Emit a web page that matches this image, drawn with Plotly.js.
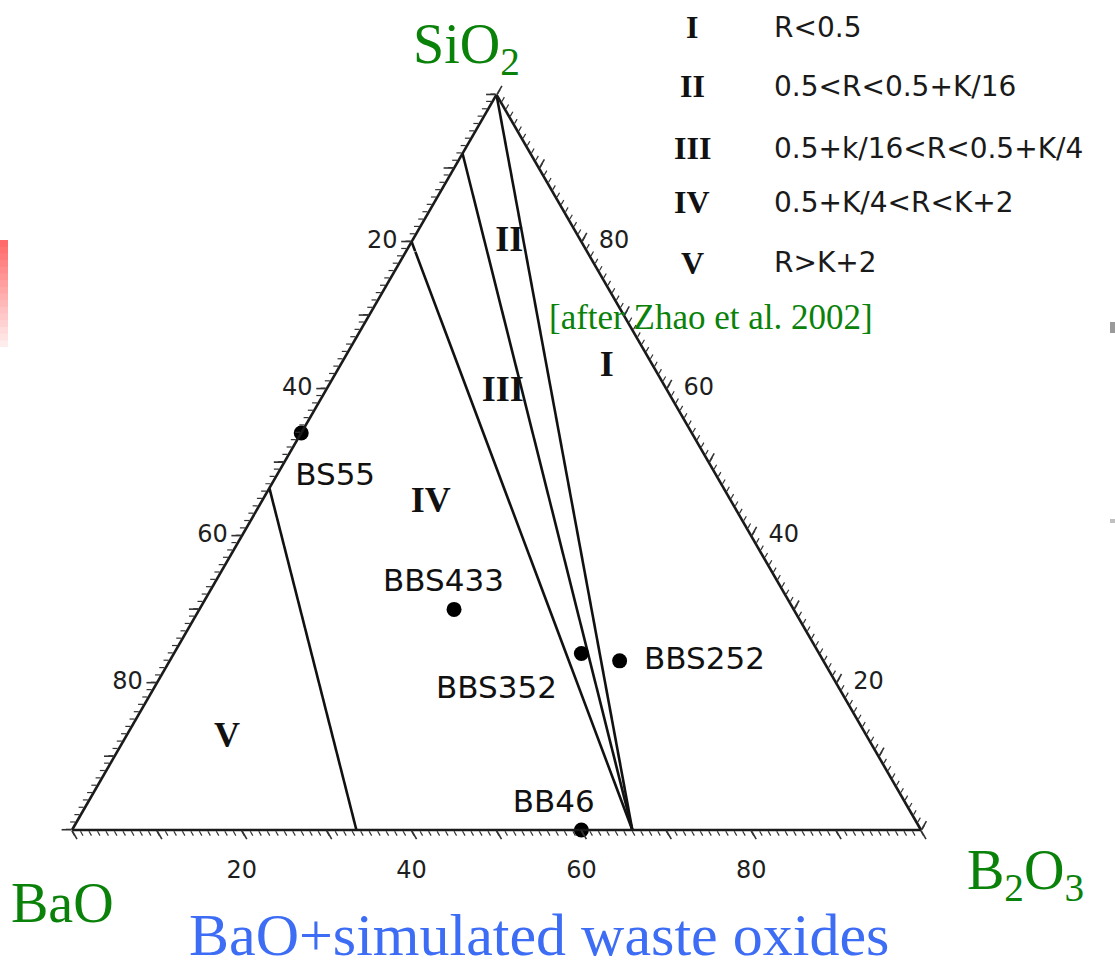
<!DOCTYPE html>
<html><head><meta charset="utf-8">
<script src="https://cdn.plot.ly/plotly-3.0.1.min.js"></script>
<style>html,body{margin:0;padding:0;background:#fff;}#chart{width:1115px;height:970px;}</style>
</head><body><div id="chart"></div>
<script>
// Ternary: a = SiO2 (top), b = BaO (bottom-left), c = B2O3 (bottom-right), mol%
const sampleNames = ['BS55', 'BBS433', 'BBS352', 'BBS252', 'BB46'];
const sampleSiO2 = [54, 30, 24, 23, 0];
const sampleBaO  = [46, 40, 28, 24, 40];
const sampleB2O3 = [0, 30, 48, 53, 60];

// region boundaries (end points)
const boundaryNames = ['R=0.5', 'R=0.5+K/16', 'R=0.5+K/4', 'R=K+2'];
const boundarySiO2 = [[100, 0], [92, 0], [80, 0], [46.5, 0]];
const boundaryBaO  = [[0, 34], [8, 34], [20, 34], [53.5, 66.5]];
const boundaryB2O3 = [[0, 66], [0, 66], [0, 66], [0, 33.5]];

const regionNumerals = ['I', 'II', 'III', 'IV', 'V'];
const regionRules = ['R<0.5', '0.5<R<0.5+K/16', '0.5+k/16<R<0.5+K/4', '0.5+K/4<R<K+2', 'R>K+2'];

// edge tick labels: left edge = BaO, bottom edge = B2O3, right edge = SiO2
const tickValues = [20, 40, 60, 80];

// label placements (ternary coordinates)
const regionLabelPos = {a: [63, 80, 59.5, 44.5, 12.5], b: [5.5, 8.5, 19.5, 35.5, 75.5], c: [31.5, 11.5, 21, 20, 12]};
const sampleLabelPos = {a: [48, 33.5, 19, 23, 3.5], b: [45, 39.5, 40.5, 14, 41.5], c: [7, 27, 40.5, 63, 55]};

const W = 1115, H = 970;
const px = x => x / W;
const py = y => 1 - y / H;
const SERIF = 'Liberation Serif, Times New Roman, serif';
const SANS = 'DejaVu Sans, sans-serif';
const GREEN = '#0a820a';

const traces = [];
boundaryNames.forEach((n, i) => {
  traces.push({type: 'scatterternary', mode: 'lines', name: n, subplot: 'ternary',
    a: boundarySiO2[i], b: boundaryBaO[i], c: boundaryB2O3[i],
    line: {color: '#111', width: 2.6}, hoverinfo: 'skip'});
});
traces.push({type: 'scatterternary', mode: 'markers', name: 'samples', subplot: 'ternary',
  a: sampleSiO2, b: sampleBaO, c: sampleB2O3, text: sampleNames,
  marker: {color: '#000', size: 15}, cliponaxis: false});
traces.push({type: 'scatterternary', mode: 'text', subplot: 'ternary',
  a: regionLabelPos.a, b: regionLabelPos.b, c: regionLabelPos.c, text: regionNumerals,
  textposition: 'middle center', textfont: {family: SERIF, size: 36, color: '#111', weight: 'bold'}, hoverinfo: 'skip', cliponaxis: false});

// edge tick labels placed on the edges through the ternary scales
const tA = [], tB = [], tC = [], tText = [], tPos = [], tSize = [];
tickValues.forEach(v => { tA.push(100 - v); tB.push(v); tC.push(0); tText.push(String(v)); tPos.push('middle left'); tSize.push(21); });
tickValues.forEach(v => { tA.push(0); tB.push(100 - v); tC.push(v); tText.push(String(v)); tPos.push('bottom center'); tSize.push(46); });
tickValues.forEach(v => { tA.push(v); tB.push(0); tC.push(100 - v); tText.push(String(v)); tPos.push('middle right'); tSize.push(26); });
traces.push({type: 'scatterternary', mode: 'markers+text', subplot: 'ternary',
  a: tA, b: tB, c: tC, text: tText, textposition: tPos,
  marker: {size: tSize, color: 'rgba(0,0,0,0)'}, textfont: {family: SANS, size: 24, color: '#1e1e1e'},
  hoverinfo: 'skip', cliponaxis: false});

traces.push({type: 'scatterternary', mode: 'text', subplot: 'ternary2',
  a: sampleLabelPos.a, b: sampleLabelPos.b, c: sampleLabelPos.c, text: sampleNames,
  textposition: 'middle center', textfont: {family: SANS, size: 31, color: '#111'}, hoverinfo: 'skip', cliponaxis: false});

const dom = {x: [72 / W, 921 / W], y: [0.10335, 0.94335]};
const mainAxis = {ticks: 'outside', ticklen: 5, tickwidth: 1.2, tickcolor: '#333', tickmode: 'linear', tick0: 0, dtick: 1,
  showticklabels: false, showgrid: false, showline: true, linecolor: '#1a1a1a', linewidth: 2.6, title: {text: ''}};
const majorAxis = {ticks: 'outside', ticklen: 10, tickwidth: 1.6, tickcolor: '#333', tickmode: 'linear', tick0: 0, dtick: 10,
  showticklabels: false, showgrid: false, showline: false, title: {text: ''}};

const shapes = [];
const bands = 16, barTop = 240, barBottom = 347;
for (let i = 0; i < bands; i++) {
  const t = i / (bands - 1);
  const g = Math.round(106 + t * 130);
  shapes.push({type: 'rect', xref: 'paper', yref: 'paper', x0: 0, x1: px(8),
    y0: py(barBottom), y1: py(barTop + i * (barBottom - barTop) / bands), line: {width: 0}, fillcolor: `rgb(255,${g},${g})`});
}
shapes.push({type: 'rect', xref: 'paper', yref: 'paper', x0: px(1110), x1: 1, y0: py(333), y1: py(322), line: {width: 0}, fillcolor: '#9a9a9a'});
shapes.push({type: 'rect', xref: 'paper', yref: 'paper', x0: px(1110), x1: 1, y0: py(523), y1: py(519), line: {width: 0}, fillcolor: '#c0c0c0'});

const annotations = [
  {text: 'SiO<sub>2</sub>', x: px(466), y: py(48), font: {family: SERIF, size: 56, color: GREEN}},
  {text: 'BaO', x: px(62), y: py(903), font: {family: SERIF, size: 56, color: GREEN}},
  {text: 'B<sub>2</sub>O<sub>3</sub>', x: px(1025), y: py(874), font: {family: SERIF, size: 56, color: GREEN}},
  {text: '[after Zhao et al. 2002]', x: px(547), y: py(318), xanchor: 'left', font: {family: SERIF, size: 35, color: GREEN}},
  {text: 'BaO+simulated waste oxides', x: px(539), y: py(935), font: {family: SERIF, size: 60, color: '#3d6cf5'}}
];
const rowY = [27, 86, 148, 202, 263];
regionNumerals.forEach((r, i) => {
  annotations.push({text: r, x: px(692), y: py(rowY[i]), font: {family: SERIF, size: 32, color: '#111', weight: 'bold'}});
  annotations.push({text: regionRules[i], x: px(772), y: py(rowY[i]), xanchor: 'left', font: {family: SANS, size: 28, color: '#1a1a1a'}});
});
annotations.forEach(a => { a.xref = 'paper'; a.yref = 'paper'; a.showarrow = false; if (!a.xanchor) a.xanchor = 'center'; a.yanchor = 'middle'; });

const layout = {
  width: W, height: H, margin: {l: 0, r: 0, t: 0, b: 0},
  paper_bgcolor: '#fff', showlegend: false, hovermode: false,
  ternary: {sum: 100, domain: dom, bgcolor: '#fff', aaxis: mainAxis, baxis: mainAxis, caxis: mainAxis},
  ternary2: {sum: 100, domain: dom, bgcolor: 'rgba(0,0,0,0)', aaxis: majorAxis, baxis: majorAxis, caxis: majorAxis},
  shapes: shapes, annotations: annotations
};
Plotly.newPlot('chart', traces, layout, {staticPlot: true, displayModeBar: false}).then(() => {
  // drop the empty axis-title text nodes that ternary subplots leave behind
  document.querySelectorAll('#chart text').forEach(t => { if (!t.textContent.trim()) t.remove(); });
});
</script>
</body></html>
